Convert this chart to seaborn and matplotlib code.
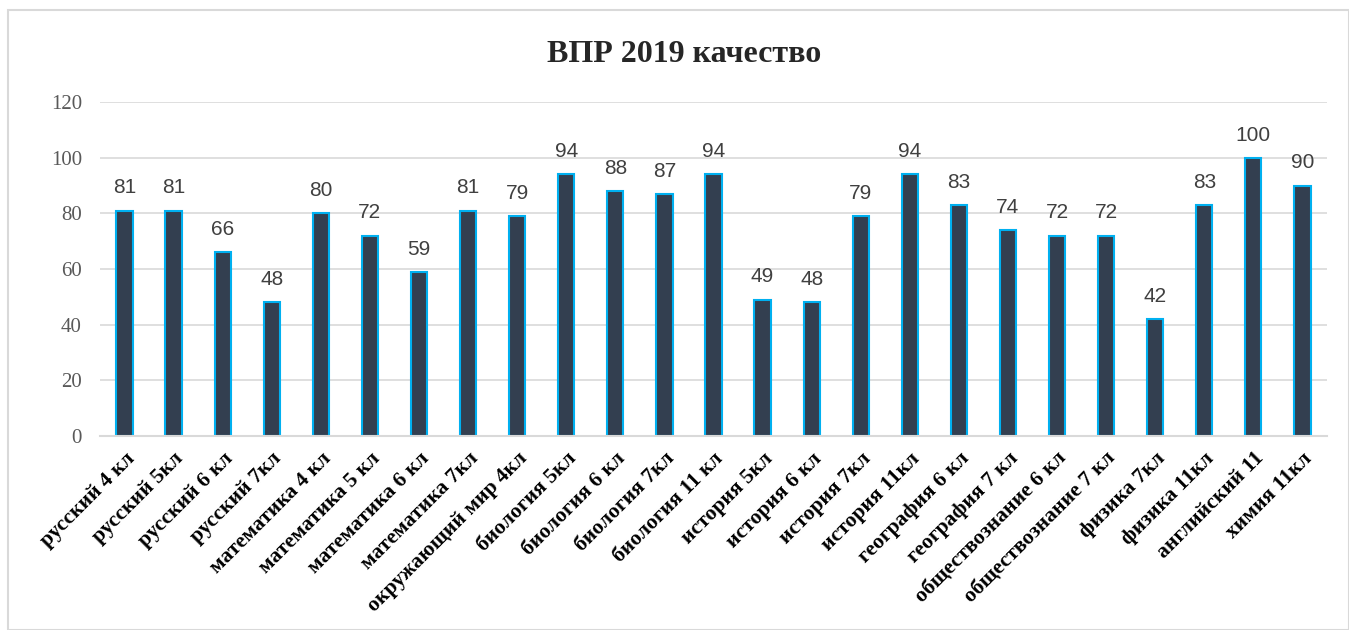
import matplotlib.pyplot as plt
import seaborn as sns
from matplotlib.patches import Rectangle

subjects = ['русский 4 кл', 'русский 5кл', 'русский 6 кл', 'русский 7кл',
            'математика 4 кл', 'математика 5 кл', 'математика 6 кл', 'математика 7кл',
            'окружающий мир 4кл', 'биология 5кл', 'биология 6 кл', 'биология 7кл',
            'биология 11 кл', 'история 5кл', 'история 6 кл', 'история 7кл',
            'история 11кл', 'география 6 кл', 'география 7 кл', 'обществознание 6 кл',
            'обществознание 7 кл', 'физика 7кл', 'физика 11кл', 'английский 11', 'химия 11кл']
quality = [81, 81, 66, 48, 80, 72, 59, 81, 79, 94, 88, 87, 94,
           49, 48, 79, 94, 83, 74, 72, 72, 42, 83, 100, 90]
yticks = [0, 20, 40, 60, 80, 100, 120]

sns.set_theme(style="white")

fig = plt.figure(figsize=(13.49, 6.30), dpi=100)
ax = fig.add_axes([0.0741, 0.308, 0.9096, 0.530])

sns.barplot(x=subjects, y=quality, ax=ax, width=0.33, color='#333f50',
            edgecolor='#00b0f0', linewidth=1.5, saturation=1)

ax.set_ylim(0, 120)
ax.set_xlim(-0.5, len(subjects) - 0.5)
ax.set_yticks(yticks)
ax.set_yticklabels([str(t) for t in yticks], fontfamily='Liberation Serif',
                   fontsize=15, color='#595959')
ax.tick_params(axis='y', length=0, pad=13)
ax.tick_params(axis='x', length=0, pad=9)
ax.grid(axis='y', color='#d9d9d9', linewidth=1.2)
ax.set_axisbelow(True)
for s in ['top', 'right', 'left']:
    ax.spines[s].set_visible(False)
ax.spines['bottom'].set_color('#d9d9d9')
ax.spines['bottom'].set_linewidth(1.5)

ax.set_xticks(range(len(subjects)))
ax.set_xticklabels(subjects, rotation=45, ha='right', rotation_mode='anchor',
                   fontfamily='Liberation Serif', fontweight='bold', fontsize=15.5,
                   color='black')

for i, v in enumerate(quality):
    ax.annotate(str(v), (i, v), xytext=(0, 9.5), textcoords='offset points',
                ha='center', va='bottom', fontsize=15, color='#404040',
                fontfamily='Liberation Sans')

ax.set_xlabel('')
ax.set_ylabel('')
fig.text(0.507, 0.914, 'ВПР 2019 качество', ha='center', va='center',
         fontfamily='Liberation Serif', fontweight='bold', fontsize=23)

fig.patches.append(Rectangle((8 / 1349, 0), 1 - 8 / 1349, 1 - 10 / 630,
                             transform=fig.transFigure, fill=False,
                             edgecolor='#d9d9d9', linewidth=1.5))

fig.savefig('out.png', dpi=100)
